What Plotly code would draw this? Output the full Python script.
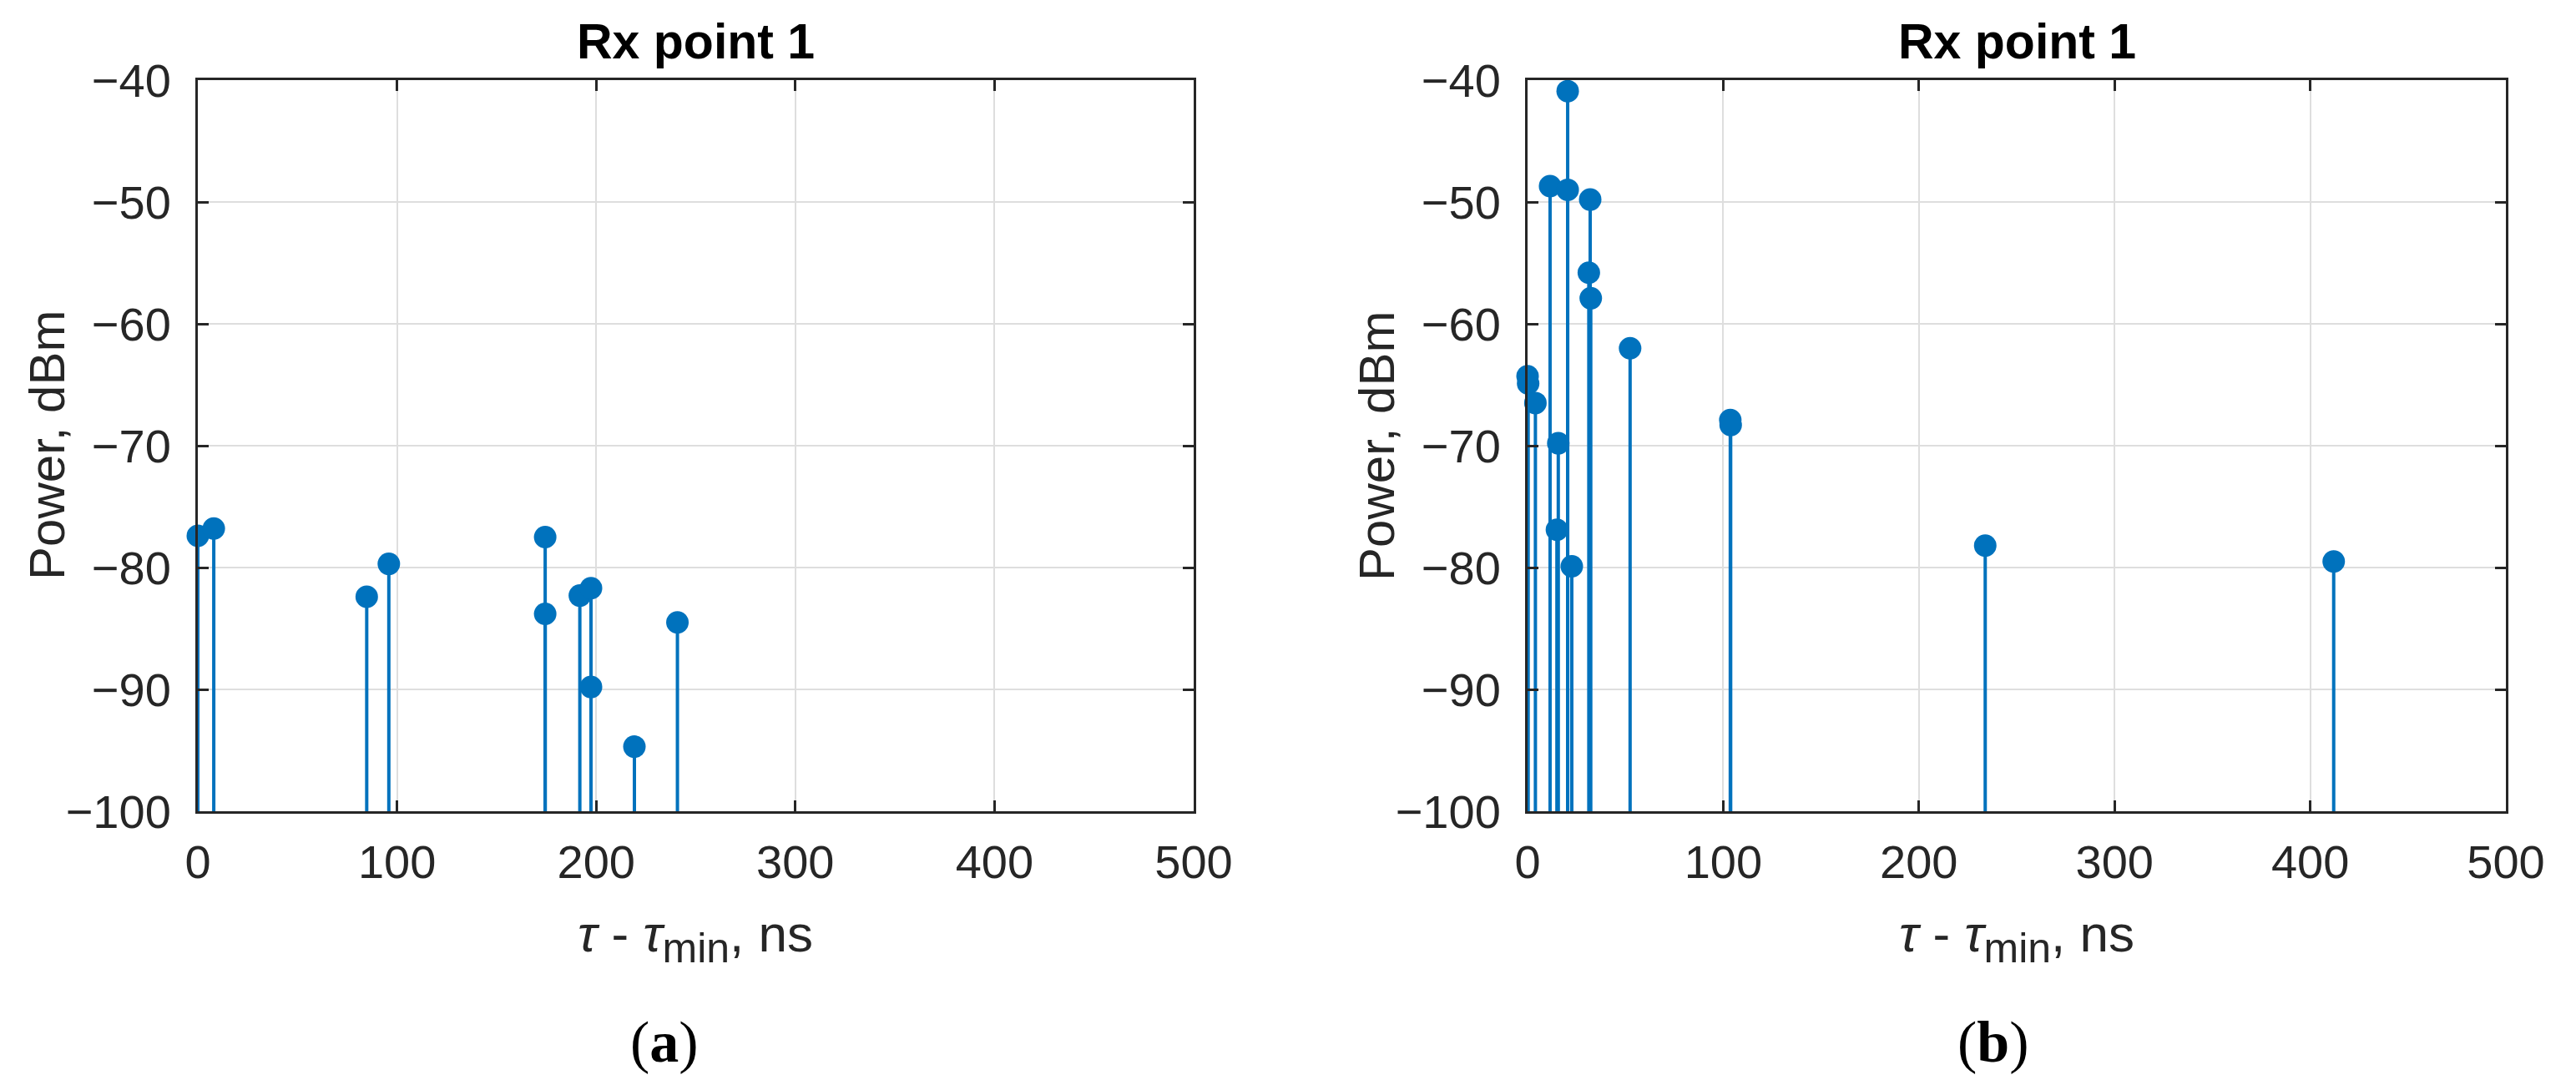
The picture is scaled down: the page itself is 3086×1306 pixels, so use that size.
import plotly.graph_objects as go

# ---------------- data ----------------
delay_a = [0, 8.0, 84.8, 95.9, 174.4, 174.4, 191.8, 197.4, 197.4, 219.2, 240.8]
power_a = [-77.4, -76.8, -82.4, -79.7, -77.5, -83.8, -82.3, -81.7, -89.8, -94.7, -84.5]

delay_b = [0, 0.3, 4.0, 11.5, 15.0, 15.7, 20.5, 20.5, 22.6, 31.3, 32.0, 32.3, 52.4, 103.6, 103.8, 233.9, 412.0]
power_b = [-64.3, -64.9, -66.5, -48.7, -76.9, -69.8, -40.9, -49.0, -79.9, -55.8, -49.8, -57.9, -62.0, -67.9, -68.3, -78.2, -79.5]

x_ticks = [0, 100, 200, 300, 400, 500]
y_ticks = [-100, -90, -80, -70, -60, -50, -40]
x_range = [0, 500]
y_range = [-100, -40]
titles = ["Rx point 1", "Rx point 1"]
panel_labels = ["(<b>a</b>)", "(<b>b</b>)"]
y_label = "Power, dBm"
x_label = ("<i>τ</i> - <i>τ</i><sub><span style='font-size:50px'>min</span></sub>, ns")

# the page body has an 8 px margin; the figure is sized to fit the window
OFF = 8
W, H = 3086 - 2 * OFF, 1306 - 2 * OFF
BLUE = "#0072BD"
FONT = "Liberation Sans"
AX = "#262626"

def px_x(v):
    return (v - OFF) / W

def px_y(v):
    return 1 - (v - OFF) / H

fig = go.Figure()

def stems(xs, ys, base):
    sx, sy = [], []
    for x, y in zip(xs, ys):
        sx += [x, x, None]
        sy += [base, y, None]
    return sx, sy

panels = [(delay_a, power_a, "x", "y"), (delay_b, power_b, "x2", "y2")]
for xs, ys, xa, ya in panels:
    sx, sy = stems(xs, ys, y_range[0])
    fig.add_trace(go.Scatter(x=sx, y=sy, mode="lines", xaxis=xa, yaxis=ya,
                             line=dict(color=BLUE, width=4), hoverinfo="skip",
                             showlegend=False))
    fig.add_trace(go.Scatter(x=xs, y=ys, mode="markers", xaxis=xa, yaxis=ya,
                             marker=dict(color=BLUE, size=27, line=dict(width=0)),
                             cliponaxis=False, showlegend=False))

xdoms = [[px_x(237), px_x(1430)], [px_x(1830), px_x(3002)]]
ydom = [px_y(972), px_y(96)]

axis_common = dict(showline=True, linecolor=AX, linewidth=3, mirror="ticks",
                   ticks="inside", ticklen=13, tickwidth=3, tickcolor=AX,
                   showgrid=True, gridcolor="#dedede", gridwidth=2,
                   zeroline=False, automargin=False,
                   tickfont=dict(family=FONT, size=56, color=AX))

layout = dict(width=W, height=H, autosize=False,
              margin=dict(l=0, r=0, t=0, b=0, pad=0, autoexpand=False),
              paper_bgcolor="white", plot_bgcolor="white",
              showlegend=False)

for i, (xn, yn) in enumerate([("xaxis", "yaxis"), ("xaxis2", "yaxis2")]):
    anchor_y = "y" if i == 0 else "y2"
    anchor_x = "x" if i == 0 else "x2"
    layout[xn] = dict(domain=xdoms[i], range=x_range, tickvals=x_ticks,
                      anchor=anchor_y, ticklabelstandoff=10, **axis_common)
    layout[yn] = dict(domain=ydom, range=y_range, tickvals=y_ticks,
                      anchor=anchor_x, ticklabelstandoff=18, **axis_common)

fig.update_layout(**layout)

ylab_x = [57, 1650]
panel_x = [796, 2388]
ann = []
for i in range(2):
    cx = (xdoms[i][0] + xdoms[i][1]) / 2
    ann.append(dict(text="<b>" + titles[i] + "</b>", x=cx, y=px_y(50),
                    xref="paper", yref="paper", showarrow=False,
                    font=dict(family=FONT, size=59, color="black"),
                    xanchor="center", yanchor="middle"))
    ann.append(dict(text=y_label, x=px_x(ylab_x[i]), y=(ydom[0] + ydom[1]) / 2,
                    xref="paper", yref="paper", showarrow=False, textangle=-90,
                    font=dict(family=FONT, size=60, color=AX),
                    xanchor="center", yanchor="middle"))
    ann.append(dict(text=x_label, x=cx, y=px_y(1124),
                    xref="paper", yref="paper", showarrow=False,
                    font=dict(family=FONT, size=62, color=AX),
                    xanchor="center", yanchor="middle"))
    ann.append(dict(text=panel_labels[i], x=px_x(panel_x[i]), y=px_y(1248),
                    xref="paper", yref="paper", showarrow=False,
                    font=dict(family="Liberation Serif", size=70, color="black"),
                    xanchor="center", yanchor="middle"))
fig.update_layout(annotations=ann)

fig.write_html("out.html")
